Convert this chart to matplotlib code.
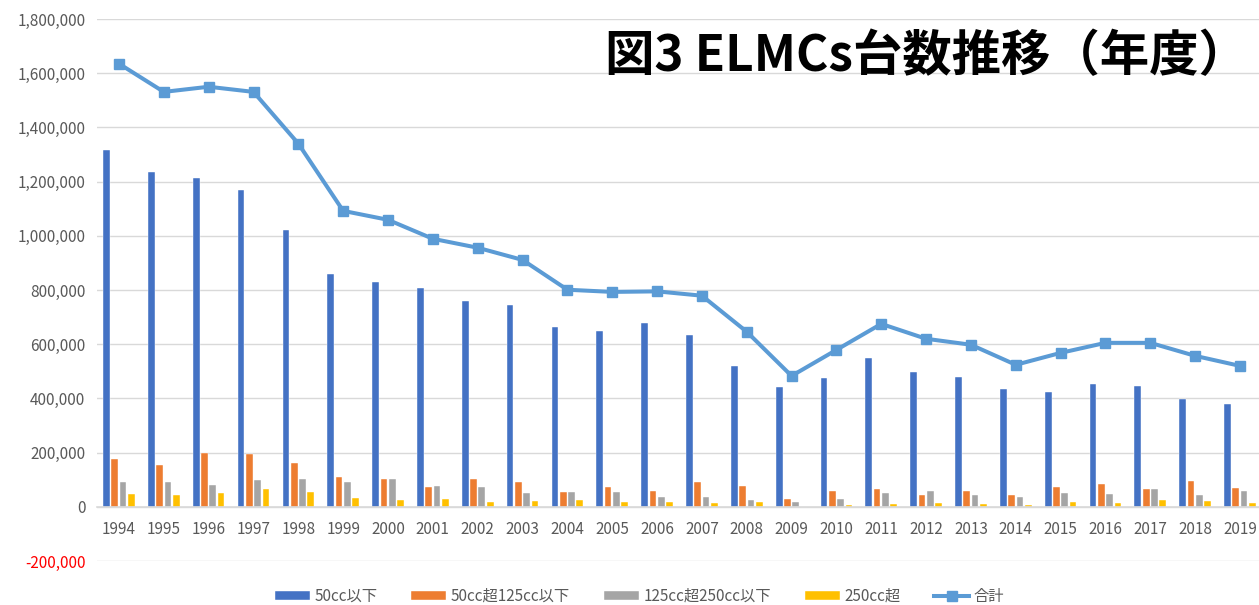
"""
図3 ELMCs台数推移（年度） - bar + line combo chart
"""

import matplotlib.pyplot as plt
import numpy as np
from matplotlib.ticker import FuncFormatter

plt.rcParams['font.family'] = ['Noto Sans CJK JP', 'DejaVu Sans']

years = [str(y) for y in range(1994, 2020)]

# 50cc以下
under50 = [1317000, 1236000, 1214000, 1170000, 1022000, 860000, 830000, 808000,
           760000, 745000, 664000, 649000, 679000, 635000, 520000, 443000,
           476000, 550000, 498000, 480000, 435000, 424000, 454000, 446000,
           398000, 380000]
# 50cc超125cc以下
c50_125 = [178000, 156000, 200000, 194000, 163000, 110000, 101000, 72000,
           101000, 90000, 54000, 72000, 60000, 90000, 76000, 27000,
           60000, 66000, 44000, 60000, 44000, 72000, 86000, 66000,
           94000, 70000]
# 125cc超250cc以下
c125_250 = [90000, 93000, 82000, 98000, 102000, 90000, 101000, 76000,
            72000, 50000, 54000, 54000, 38000, 38000, 25000, 16000,
            28000, 50000, 58000, 44000, 38000, 50000, 47000, 66000,
            44000, 58000]
# 250cc超
over250 = [47000, 43000, 50000, 66000, 54000, 31000, 25000, 28000,
           18000, 22000, 25000, 18000, 16000, 15000, 18000, 1000,
           5000, 12000, 15000, 12000, 5000, 18000, 15000, 25000,
           21000, 15000]
# 合計
total = [1635000, 1531000, 1550000, 1531000, 1340000, 1092000, 1059000, 989000,
         956000, 911000, 801000, 793000, 795000, 779000, 646000, 483000,
         579000, 675000, 620000, 598000, 524000, 568000, 605000, 605000,
         557000, 520000]

series = [
    ('50cc以下', under50, '#4472C4'),
    ('50cc超125cc以下', c50_125, '#ED7D31'),
    ('125cc超250cc以下', c125_250, '#A5A5A5'),
    ('250cc超', over250, '#FFC000'),
]

text_color = '#595959'
grid_color = '#D9D9D9'

fig = plt.figure(figsize=(12.59, 6.05), dpi=100)
ax = fig.add_axes([0.0767, 0.0727, 0.926, 0.8959])

x = np.arange(len(years))
step = 0.185
width = 0.15
for i, (name, vals, color) in enumerate(series):
    ax.bar(x + (i - 1.5) * step, vals, width, color=color, label=name,
           edgecolor='white', linewidth=0.3, zorder=2)

ax.plot(x, total, color='#5B9BD5', linewidth=2.9, marker='s', markersize=7,
        label='合計', zorder=3)

ax.set_xlim(-0.5, len(years) - 0.5)
ax.set_ylim(-200000, 1800000)
ax.set_yticks(np.arange(-200000, 1800001, 200000))
ax.yaxis.set_major_formatter(FuncFormatter(lambda v, p: f'{int(v):,}'))
ax.grid(True, axis='y', color=grid_color, linewidth=1, zorder=0)
ax.set_axisbelow(True)

for side in ['top', 'right', 'left']:
    ax.spines[side].set_visible(False)
ax.spines['bottom'].set_position(('data', 0))
ax.spines['bottom'].set_color(grid_color)
ax.spines['bottom'].set_linewidth(1.2)

ax.set_xticks(x)
ax.set_xticklabels(years)
ax.tick_params(axis='x', length=0, pad=10, labelsize=11, labelcolor=text_color)
ax.tick_params(axis='y', length=0, pad=8, labelsize=11, labelcolor=text_color)
ax.get_yticklabels()[0].set_color('red')

fig.text(0.736, 0.906, '図3 ELMCs台数推移（年度）', fontsize=35.6,
         fontweight='bold', ha='center', va='center', color='black')

# legend: bars first, then the total line
handles, labels = ax.get_legend_handles_labels()
order = [1, 2, 3, 4, 0]
fig.legend([handles[i] for i in order], [labels[i] for i in order],
           loc='center', bbox_to_anchor=(0.508, 0.014),
           ncol=5, frameon=False, fontsize=11, labelcolor=text_color,
           handlelength=2.3, handleheight=0.6, columnspacing=2.2,
           handletextpad=0.3)

plt.savefig('out.png', dpi=100)
